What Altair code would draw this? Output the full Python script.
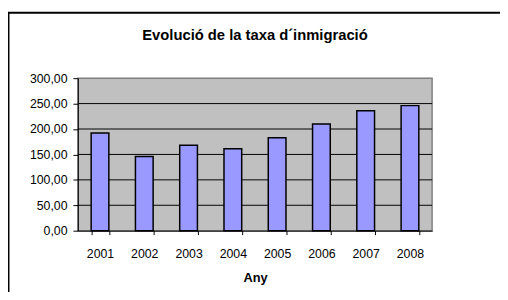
import altair as alt
import pandas as pd

years = ["2001", "2002", "2003", "2004", "2005", "2006", "2007", "2008"]
rates = [192, 146, 168, 161, 183, 210, 236, 246]
grid_values = [50, 100, 150, 200, 250]
y_ticks = [0, 50, 100, 150, 200, 250, 300]

title_text = "Evolució de la taxa d´inmigració"
x_title = "Any"

df = pd.DataFrame({"Any": years, "Taxa": rates})
grid_df = pd.DataFrame({"Taxa": grid_values})
frame_df = pd.DataFrame({"f": [0]})
title_df = pd.DataFrame({"t": [title_text]})

FONT = "Liberation Sans"
W, H = 360, 155

x_enc = alt.X(
    "Any:N",
    title=x_title,
    sort=years,
    scale=alt.Scale(paddingInner=0.6, paddingOuter=0.3),
    axis=alt.Axis(
        labelAngle=0,
        tickBand="extent",
        tickSize=4,
        labelPadding=13,
        titlePadding=12,
        labelFontSize=12.5,
        titleFontSize=13,
        titleFontWeight="bold",
        labelFont=FONT,
        titleFont=FONT,
        labelColor="black",
        titleColor="black",
        domainColor="black",
        tickColor="black",
        grid=False,
    ),
)

y_scale = alt.Scale(domain=[0, 300], nice=False)
y_axis = alt.Axis(
    values=y_ticks,
    labelExpr="replace(format(datum.value, '.2f'), '.', ',')",
    labelOverlap=False,
    tickSize=5,
    labelPadding=6,
    labelFontSize=12.5,
    labelFont=FONT,
    labelColor="black",
    domainColor="black",
    tickColor="black",
    grid=False,
)

y_enc = alt.Y("Taxa:Q", title=None, scale=y_scale, axis=y_axis)

bars = alt.Chart(df).mark_bar(
    color="#9999FF", stroke="black", strokeWidth=1.5
).encode(
    x=x_enc,
    y=y_enc,
)

grid = alt.Chart(grid_df).mark_rule(color="black", strokeWidth=1).encode(
    y=y_enc,
    x=alt.value(0),
    x2=alt.value(W),
)

frame = alt.Chart(frame_df).mark_rect(
    fill="white", fillOpacity=0, stroke="black", strokeWidth=2
).encode(
    x=alt.value(-70.5),
    x2=alt.value(W + 120),
    y=alt.value(-66.5),
    y2=alt.value(H + 200),
)

title = alt.Chart(title_df).mark_text(
    font=FONT, fontSize=15, fontWeight="bold", color="black",
    align="center", baseline="alphabetic"
).encode(
    text="t:N",
    x=alt.value(W / 2),
    y=alt.value(-39),
)

chart = alt.layer(frame, grid, bars, title).properties(
    width=W,
    height=H,
    autosize=alt.AutoSizeParams(type="none"),
    padding={"left": 71, "top": 69, "right": 69, "bottom": 60},
    background="white",
).configure_view(
    fill="#C0C0C0", stroke="#808080", strokeWidth=1.5
)

chart.save("out.html", embed_options={"renderer": "svg", "actions": False})
